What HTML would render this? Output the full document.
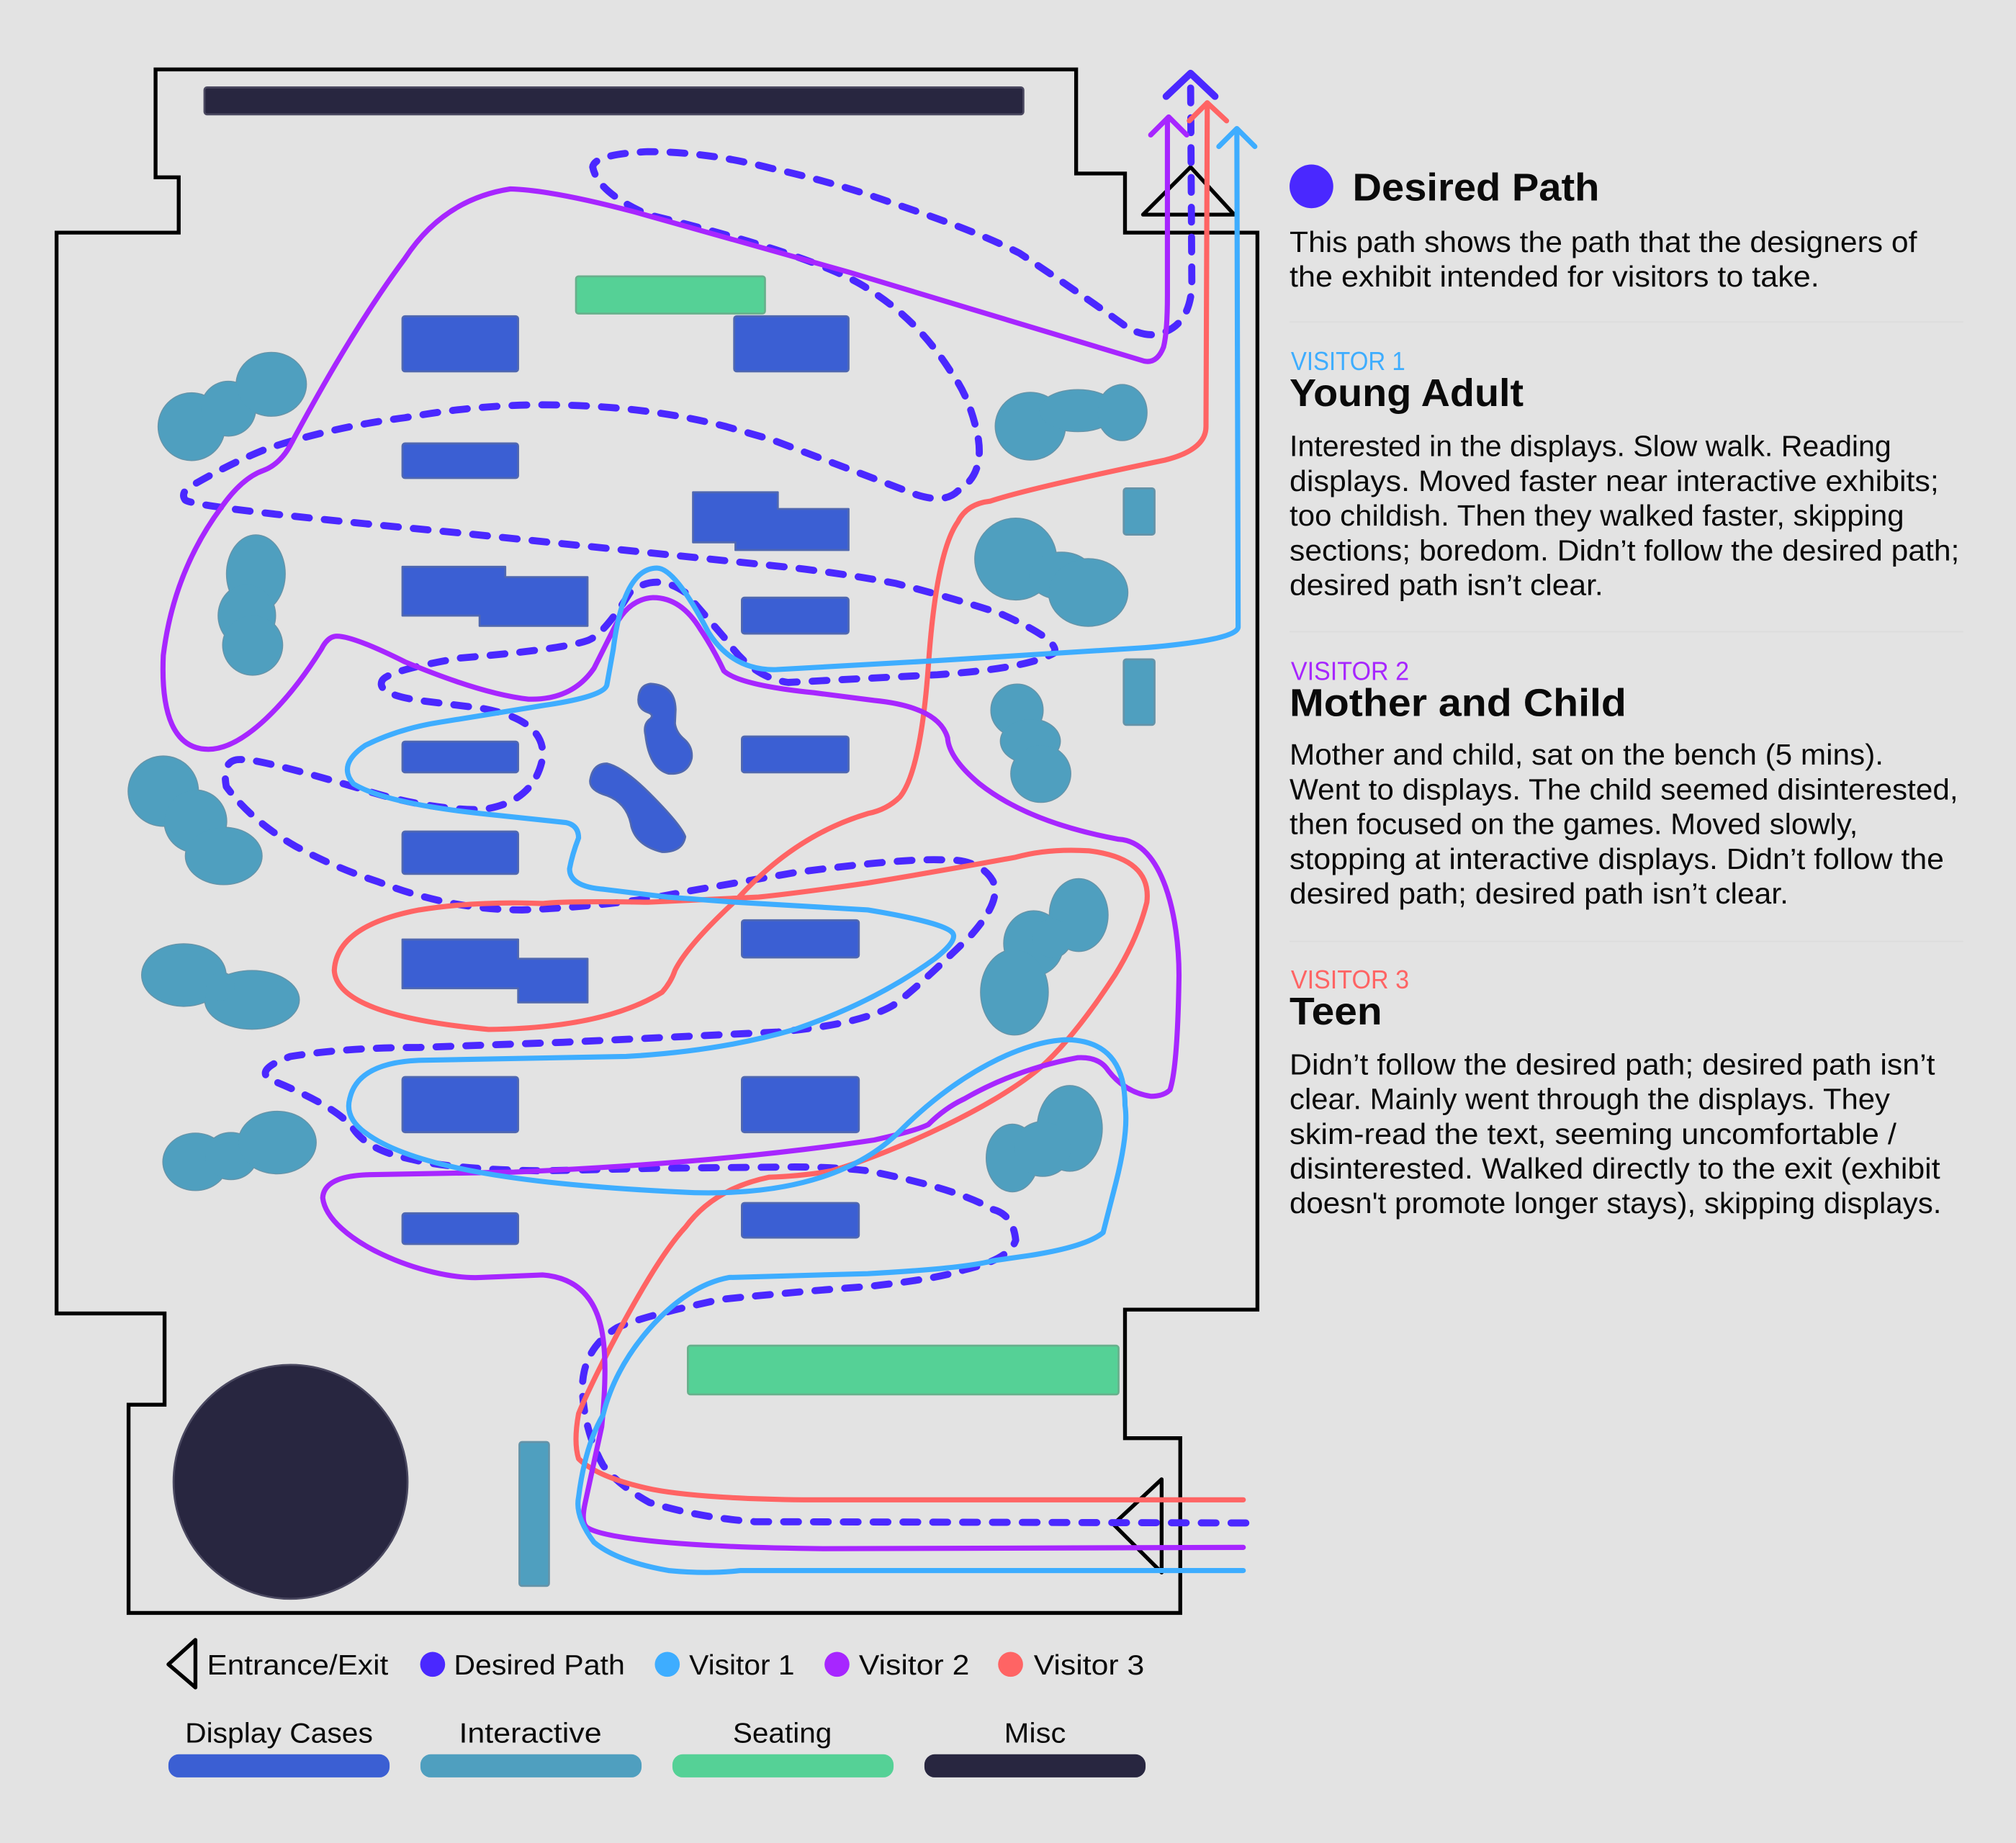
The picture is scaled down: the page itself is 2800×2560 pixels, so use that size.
<!DOCTYPE html>
<html><head><meta charset="utf-8"><style>
html,body{margin:0;padding:0;background:#e3e3e3}
svg{display:block}
text{font-family:"Liberation Sans",sans-serif;fill:#0a0a0a}
.b{font-size:23px}
.h{font-size:30px;font-weight:bold}
.v{font-size:20px}
.l{font-size:22px}
.p{fill:none;stroke-width:4;stroke-linecap:round;stroke-linejoin:round}
</style></head><body>
<svg xmlns="http://www.w3.org/2000/svg" width="2800" height="2560" viewBox="0 0 2800 2560">
<rect width="2800" height="2560" fill="#e3e3e3"/>
<g transform="scale(1.7857 1.7852)">
<path d="M121,54 L837,54 L837,135 L875,135 L875,181 L978,181 L978,1019 L875,1019 L875,1119 L918,1119 L918,1255 L100,1255 L100,1093 L128,1093 L128,1022 L44,1022 L44,181 L139,181 L139,138 L121,138 Z" fill="none" stroke="#000" stroke-width="3"/>

<g fill="#3b5fd3" stroke="#5068b0" stroke-width="1.5" stroke-linejoin="round">
<rect x="313" y="246" width="90" height="43" rx="2"/>
<rect x="571" y="246" width="89" height="43" rx="2"/>
<rect x="313" y="345" width="90" height="27" rx="2"/>
<path d="M539,383 H605 V396 H660 V428 H572 V422 H539 Z"/>
<path d="M313,441 H393 V449 H457 V487 H373 V479 H313 Z"/>
<rect x="577" y="465" width="83" height="28" rx="2"/>
<rect x="313" y="577" width="90" height="24" rx="2"/>
<rect x="577" y="573" width="83" height="28" rx="2"/>
<rect x="313" y="647" width="90" height="33" rx="2"/>
<rect x="577" y="716" width="91" height="29" rx="2"/>
<path d="M313,731 H403 V746 H457 V780 H403 V769 H313 Z"/>
<rect x="313" y="838" width="90" height="43" rx="2"/>
<rect x="577" y="838" width="91" height="43" rx="2"/>
<rect x="313" y="944" width="90" height="24" rx="2"/>
<rect x="577" y="936" width="91" height="27" rx="2"/>
<path d="M496.5,544 Q497,533 506,532 Q525,533 525.5,552 L525,563 Q526,570 532,575 Q539,581 538,590 Q535,603 520,602 Q505,598 502,572 Q500,563 506,559 Q509,556 503,554 Q496,551 496.5,544 Z"/>
<path d="M459,607 Q461,594 472,594 Q485,597 505,617 Q530,642 533,651 Q531,663 515,663 Q495,658 491,643 Q488,625 472,619 Q458,615 459,607 Z"/>
</g>

<g fill="#4f9fbf" stroke="#6593a8" stroke-width="1.5">
<rect x="874" y="380" width="24" height="36" rx="2"/>
<rect x="874" y="513" width="24" height="51" rx="2"/>
<rect x="404" y="1122" width="23" height="112" rx="2"/>
</g>
<defs><g id="bl">
<ellipse cx="149" cy="332" rx="25.7" ry="26"/><ellipse cx="177.6" cy="318" rx="21" ry="21"/><ellipse cx="211" cy="299" rx="27" ry="24.5"/>
<ellipse cx="199" cy="446.5" rx="22.5" ry="30"/><ellipse cx="192" cy="479" rx="22" ry="24"/><ellipse cx="196.5" cy="502" rx="23" ry="23"/>
<ellipse cx="801.4" cy="331.6" rx="27" ry="26"/><ellipse cx="838.4" cy="319.5" rx="30" ry="16"/><ellipse cx="872.8" cy="321" rx="19" ry="21.5"/>
<ellipse cx="790" cy="435" rx="31.5" ry="31.5"/><ellipse cx="825.5" cy="448" rx="25" ry="18"/><ellipse cx="846.4" cy="461" rx="30.5" ry="26"/>
<ellipse cx="791" cy="552.6" rx="20" ry="20"/><ellipse cx="801.4" cy="576.7" rx="23" ry="17"/><ellipse cx="809.5" cy="602" rx="23" ry="22"/>
<ellipse cx="127" cy="615.6" rx="27" ry="27"/><ellipse cx="152" cy="639" rx="24" ry="24"/><ellipse cx="174" cy="666" rx="29.5" ry="22"/>
<ellipse cx="143" cy="758.7" rx="32.5" ry="24"/><ellipse cx="196" cy="778" rx="36.5" ry="22.5"/><ellipse cx="171.5" cy="767.7" rx="11" ry="11"/>
<ellipse cx="152" cy="904" rx="25" ry="22"/><ellipse cx="179.6" cy="899.5" rx="20" ry="18"/><ellipse cx="215.6" cy="889" rx="30" ry="24"/>
<ellipse cx="839" cy="712" rx="22.5" ry="28"/><ellipse cx="804" cy="734" rx="23" ry="25"/><ellipse cx="789" cy="772" rx="26" ry="33"/><ellipse cx="818" cy="730" rx="15" ry="15"/>
<ellipse cx="832" cy="878" rx="25" ry="33"/><ellipse cx="787.4" cy="901" rx="20" ry="26"/><ellipse cx="811" cy="894" rx="22" ry="21"/>
</g></defs>
<use href="#bl" fill="#6593a8" stroke="#6593a8" stroke-width="1.5"/>
<use href="#bl" fill="#4f9fbf"/>

<rect x="448" y="215" width="147" height="29" rx="2" fill="#55d196" stroke="#68b08c" stroke-width="1.5"/>
<rect x="535" y="1047" width="335" height="38" rx="2" fill="#55d196" stroke="#68b08c" stroke-width="1.5"/>
<rect x="159" y="68" width="637" height="21" rx="2" fill="#282640" stroke="#4a4860" stroke-width="1.5"/>
<circle cx="226" cy="1153" r="91" fill="#282640" stroke="#4a4860" stroke-width="1.5"/>

<path d="M926,130 L889,167 L960,167 Z" fill="none" stroke="#000" stroke-width="3" stroke-linejoin="round"/>
<path d="M903.5,1151 L866,1186 L903.5,1223.5 Z" fill="none" stroke="#000" stroke-width="3" stroke-linejoin="round"/>

<!-- Desired -->
<path class="p" style="stroke-width:5.5" stroke="#4a28ff" stroke-dasharray="11.5 11.7" d="M969,1185 L587,1184 Q544,1181 505,1169 Q480,1155 469,1140 Q455,1115 453,1083 Q452,1050 480,1033 Q500,1024 561,1011 Q620,1005 675,1001 Q730,995 750,988 Q785,980 790,965 Q788,945 772,941 Q745,925 675,911 Q650,908 618,908 L510,909 L422,911 Q352,910 320,902 Q285,895 274,877 Q260,860 210,840 Q198,832 226,822 Q270,815 326,815 L438,811 L605,803 Q670,797 695,782 Q712,770 755,728 Q780,700 772,685 Q762,668 732,669 Q700,668 618,679 L532,694 Q480,705 406,708 Q350,708 294,686 Q260,675 229,658 Q195,638 176,612 Q172,590 188,591 Q200,590 278,613 Q330,630 374,630 Q415,625 422,590 Q425,560 374,551 L326,545 Q293,540 297,530 Q300,522 358,512 Q440,505 458,498 Q470,493 490,461 Q510,445 533,461 L565,498 Q585,527 613,531 L729,525 Q800,520 820,508 Q825,498 777,477 Q740,465 697,454 Q650,445 600,440 L351,414 Q150,395 144,389 Q140,383 149,378 Q180,360 208,349 Q260,332 315,325 Q370,315 422,315 Q500,315 565,332 L600,342 L713,385 Q735,392 745,382 Q765,370 761,342 Q755,310 740,290 Q715,250 677,226 Q640,200 504,167 Q465,150 461,130 Q462,120 504,118 Q550,118 600,131 Q650,142 697,159 Q760,180 793,197 Q850,235 877,255 Q890,262 900,260 Q925,255 927,223 L926,60"/>
<path class="p" style="stroke-width:5.5" stroke="#4a28ff" d="M907,75 L926,57 L945,75"/>

<!-- Visitor 3 -->
<path class="p" stroke="#ff6464" d="M967,1167 L625,1167 Q545,1166 508,1159 Q465,1150 450,1135 Q446,1122 450,1100 C460,1075 505,985 533,955 Q555,925 598,916 Q625,915 647,911 C700,895 775,860 810,830 C830,812 850,785 867,759 Q885,730 892,702 Q896,668 847,662 Q815,660 790,667 Q730,678 675,687 Q620,695 590,698 L504,702 Q440,701 422,703 Q370,701 326,708 Q262,720 260,755 Q262,790 380,801 Q470,800 515,772 Q522,764 525,755 Q535,735 573,700 Q618,650 675,633 Q690,630 700,620 Q716,600 722,519 Q728,430 745,406 Q752,392 770,390 Q800,380 906,358 Q938,350 938,332 L939,80"/>
<path class="p" stroke="#ff6464" d="M925,94 L939,80 L954,94"/>

<!-- Visitor 2 -->
<path class="p" stroke="#a726ff" d="M967,1204 L640,1205 Q540,1204 490,1197 Q462,1193 456,1188 Q452,1184 455,1170 L468,1110 Q473,1060 468,1035 Q460,995 422,992 Q398,993 374,994 C330,996 255,965 251,932 Q252,915 287,914 L400,912 Q560,905 680,887 Q712,880 722,875 Q735,862 750,855 Q790,832 838,823 Q855,822 862,833 Q875,850 895,853 Q905,853 910,848 Q916,830 917,759 C917,715 905,655 870,653 Q800,640 762,610 Q738,590 737,574 Q730,550 680,545 L633,539 Q575,533 563,522 Q555,505 545,490 Q530,465 508,465 Q488,466 477,490 Q468,508 462,520 Q445,545 411,544 Q375,540 315,515 Q275,495 262,495 Q255,495 250,505 C225,545 190,583 162,583 C135,583 125,555 127,510 Q135,445 172,395 Q188,372 205,366 Q218,361 226,346 C240,320 275,255 315,201 Q345,155 397,147 Q430,148 494,165 L661,212 L890,281 Q900,283 905,270 Q908,258 908,230 L908,92"/>
<path class="p" stroke="#a726ff" d="M895,105 L909,91 L923,105"/>

<!-- Visitor 1 -->
<path class="p" stroke="#3eadff" d="M967,1222 L576,1222 Q551,1225 520,1222 Q480,1215 462,1200 Q447,1180 450,1165 Q455,1125 469,1101 Q478,1065 505,1034 Q535,1000 567,994 L675,991 Q750,987 772,981 L800,977 Q845,970 858,959 L868,920 Q878,880 875,860 Q875,810 830,809 C795,810 745,835 700,880 C670,910 620,930 540,928 C450,924 330,915 285,882 Q268,870 272,855 Q278,827 326,825 L487,822 Q560,818 618,801 Q680,780 727,746 Q745,732 741,726 Q735,718 675,708 L572,702 L519,698 L470,692 Q443,690 443,676 Q445,665 450,652 Q450,642 440,640 L374,633 Q300,625 275,610 Q262,595 284,580 Q310,567 342,562 L422,549 Q470,542 472,533 L477,505 Q485,442 511,442 Q525,442 551,492 Q570,522 604,521 L729,514 L890,504 Q962,498 963,488 L962,101"/>
<path class="p" stroke="#3eadff" d="M948,114 L962,100 L976,114"/>

<!-- Legend -->
<path d="M152,1276 L131,1295 L152,1313 Z" fill="none" stroke="#000" stroke-width="3" stroke-linejoin="round"/>
<text class="l" x="161" y="1303" textLength="141" lengthAdjust="spacingAndGlyphs">Entrance/Exit</text>
<circle cx="336.5" cy="1295" r="9.7" fill="#4a28ff"/>
<text class="l" x="353" y="1303" textLength="133" lengthAdjust="spacingAndGlyphs">Desired Path</text>
<circle cx="519" cy="1295" r="9.7" fill="#3eadff"/>
<text class="l" x="536" y="1303" textLength="82" lengthAdjust="spacingAndGlyphs">Visitor 1</text>
<circle cx="651" cy="1295" r="9.7" fill="#a726ff"/>
<text class="l" x="668" y="1303" textLength="86" lengthAdjust="spacingAndGlyphs">Visitor 2</text>
<circle cx="786" cy="1295" r="9.7" fill="#ff6464"/>
<text class="l" x="804" y="1303" textLength="86" lengthAdjust="spacingAndGlyphs">Visitor 3</text>

<text class="l" x="144" y="1356" textLength="146" lengthAdjust="spacingAndGlyphs">Display Cases</text>
<text class="l" x="357" y="1356" textLength="111" lengthAdjust="spacingAndGlyphs">Interactive</text>
<text class="l" x="570" y="1356" textLength="77" lengthAdjust="spacingAndGlyphs">Seating</text>
<text class="l" x="781" y="1356" textLength="48" lengthAdjust="spacingAndGlyphs">Misc</text>
<rect x="131" y="1365" width="172" height="18" rx="8" fill="#3b5fd3"/>
<rect x="327" y="1365" width="172" height="18" rx="8" fill="#4f9fbf"/>
<rect x="523" y="1365" width="172" height="18" rx="8" fill="#55d196"/>
<rect x="719" y="1365" width="172" height="18" rx="8" fill="#282640"/>

<!-- Panel -->
<circle cx="1020" cy="145" r="17" fill="#4a28ff"/>
<text class="h" x="1052" y="156" textLength="192" lengthAdjust="spacingAndGlyphs">Desired Path</text>
<text class="b" x="1003" y="196" textLength="488" lengthAdjust="spacingAndGlyphs">This path shows the path that the designers of</text>
<text class="b" x="1003" y="223" textLength="412" lengthAdjust="spacingAndGlyphs">the exhibit intended for visitors to take.</text>
<rect x="1003" y="250" width="524" height="1" fill="#dcdcdc"/>

<text class="v" x="1004" y="288" textLength="89" lengthAdjust="spacingAndGlyphs" style="fill:#3eadff">VISITOR 1</text>
<text class="h" x="1003" y="316" textLength="182" lengthAdjust="spacingAndGlyphs">Young Adult</text>
<text class="b" x="1003" y="355" textLength="468" lengthAdjust="spacingAndGlyphs">Interested in the displays. Slow walk. Reading</text>
<text class="b" x="1003" y="382" textLength="505" lengthAdjust="spacingAndGlyphs">displays. Moved faster near interactive exhibits;</text>
<text class="b" x="1003" y="409" textLength="478" lengthAdjust="spacingAndGlyphs">too childish. Then they walked faster, skipping</text>
<text class="b" x="1003" y="436" textLength="521" lengthAdjust="spacingAndGlyphs">sections; boredom. Didn’t follow the desired path;</text>
<text class="b" x="1003" y="463" textLength="244" lengthAdjust="spacingAndGlyphs">desired path isn’t clear.</text>
<rect x="1003" y="491" width="524" height="1" fill="#dcdcdc"/>

<text class="v" x="1004" y="529" textLength="92" lengthAdjust="spacingAndGlyphs" style="fill:#a726ff">VISITOR 2</text>
<text class="h" x="1003" y="557" textLength="262" lengthAdjust="spacingAndGlyphs">Mother and Child</text>
<text class="b" x="1003" y="595" textLength="462" lengthAdjust="spacingAndGlyphs">Mother and child, sat on the bench (5 mins).</text>
<text class="b" x="1003" y="622" textLength="520" lengthAdjust="spacingAndGlyphs">Went to displays. The child seemed disinterested,</text>
<text class="b" x="1003" y="649" textLength="442" lengthAdjust="spacingAndGlyphs">then focused on the games. Moved slowly,</text>
<text class="b" x="1003" y="676" textLength="509" lengthAdjust="spacingAndGlyphs">stopping at interactive displays. Didn’t follow the</text>
<text class="b" x="1003" y="703" textLength="388" lengthAdjust="spacingAndGlyphs">desired path; desired path isn’t clear.</text>
<rect x="1003" y="732" width="524" height="1" fill="#dcdcdc"/>

<text class="v" x="1004" y="769" textLength="92" lengthAdjust="spacingAndGlyphs" style="fill:#ff6464">VISITOR 3</text>
<text class="h" x="1003" y="797" textLength="72" lengthAdjust="spacingAndGlyphs">Teen</text>
<text class="b" x="1003" y="836" textLength="502" lengthAdjust="spacingAndGlyphs">Didn’t follow the desired path; desired path isn’t</text>
<text class="b" x="1003" y="863" textLength="467" lengthAdjust="spacingAndGlyphs">clear. Mainly went through the displays. They</text>
<text class="b" x="1003" y="890" textLength="472" lengthAdjust="spacingAndGlyphs">skim-read the text, seeming uncomfortable /</text>
<text class="b" x="1003" y="917" textLength="506" lengthAdjust="spacingAndGlyphs">disinterested. Walked directly to the exit (exhibit</text>
<text class="b" x="1003" y="944" textLength="507" lengthAdjust="spacingAndGlyphs">doesn't promote longer stays), skipping displays.</text>
</g>
</svg>
</body></html>
